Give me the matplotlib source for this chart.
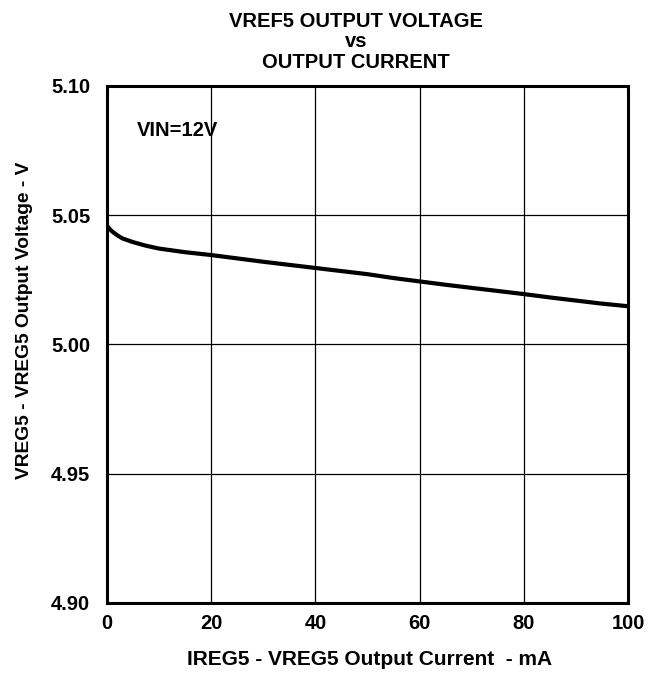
import matplotlib
matplotlib.use("Agg")
import matplotlib.pyplot as plt

# Data
current_ma = [0, 0.5, 1, 2, 3, 5, 7.5, 10, 15, 20, 25, 30, 35, 40, 45, 50,
              55, 60, 65, 70, 75, 80, 85, 90, 95, 100]
voltage_v = [5.0460, 5.0447, 5.0437, 5.0422, 5.0410, 5.0396, 5.0382, 5.0371,
             5.0357, 5.0346, 5.0333, 5.0320, 5.0308, 5.0296, 5.0284, 5.0272,
             5.0257, 5.0244, 5.0231, 5.0219, 5.0207, 5.0195, 5.0182, 5.0170,
             5.0158, 5.0148]
x_ticks = [0, 20, 40, 60, 80, 100]
y_ticks = [4.90, 4.95, 5.00, 5.05, 5.10]
y_tick_labels = ["4.90", "4.95", "5.00", "5.05", "5.10"]

plt.rcParams['font.family'] = ['Liberation Sans', 'DejaVu Sans']
plt.rcParams['font.weight'] = 'bold'

fig = plt.figure(figsize=(6.58, 6.75), dpi=100)
ax = fig.add_axes([0.1626, 0.1067, 0.7918, 0.7659])

ax.plot(current_ma, voltage_v, color='black', linewidth=3, solid_capstyle='butt', zorder=3)

ax.set_xlim(0, 100)
ax.set_ylim(4.90, 5.10)
ax.set_xticks(x_ticks)
ax.set_xticklabels([str(t) for t in x_ticks], fontsize=14.5, fontweight='bold')
ax.set_yticks(y_ticks)
ax.set_yticklabels(y_tick_labels, fontsize=14.5, fontweight='bold')
ax.tick_params(axis='x', length=0, pad=8)
ax.tick_params(axis='y', length=0, pad=12)
ax.grid(True, color='black', linewidth=0.9)
ax.set_axisbelow(True)
for s in ax.spines.values():
    s.set_linewidth(2.2)

ax.text(5.8, 5.0826, "VIN=12V", fontsize=14.5, fontweight='bold', va='center', ha='left')

fig.text(0.562, 1 - 665 / 675, "IREG5 - VREG5 Output Current  - mA", ha='center', va='baseline',
         fontsize=15, fontweight='bold')
fig.text(25 / 658, 1 - 320 / 675, "VREG5 - VREG5 Output Voltage - V", ha='center', va='center',
         rotation=90, fontsize=13.8, fontweight='bold')

fig.text(0.541, 1 - 27 / 675, "VREF5 OUTPUT VOLTAGE", ha='center', va='baseline', fontsize=14.5, fontweight='bold')
fig.text(0.541, 1 - 47 / 675, "vs", ha='center', va='baseline', fontsize=14.5, fontweight='bold')
fig.text(0.541, 1 - 68 / 675, "OUTPUT CURRENT", ha='center', va='baseline', fontsize=14.5, fontweight='bold')

fig.savefig("out.png", dpi=100)
